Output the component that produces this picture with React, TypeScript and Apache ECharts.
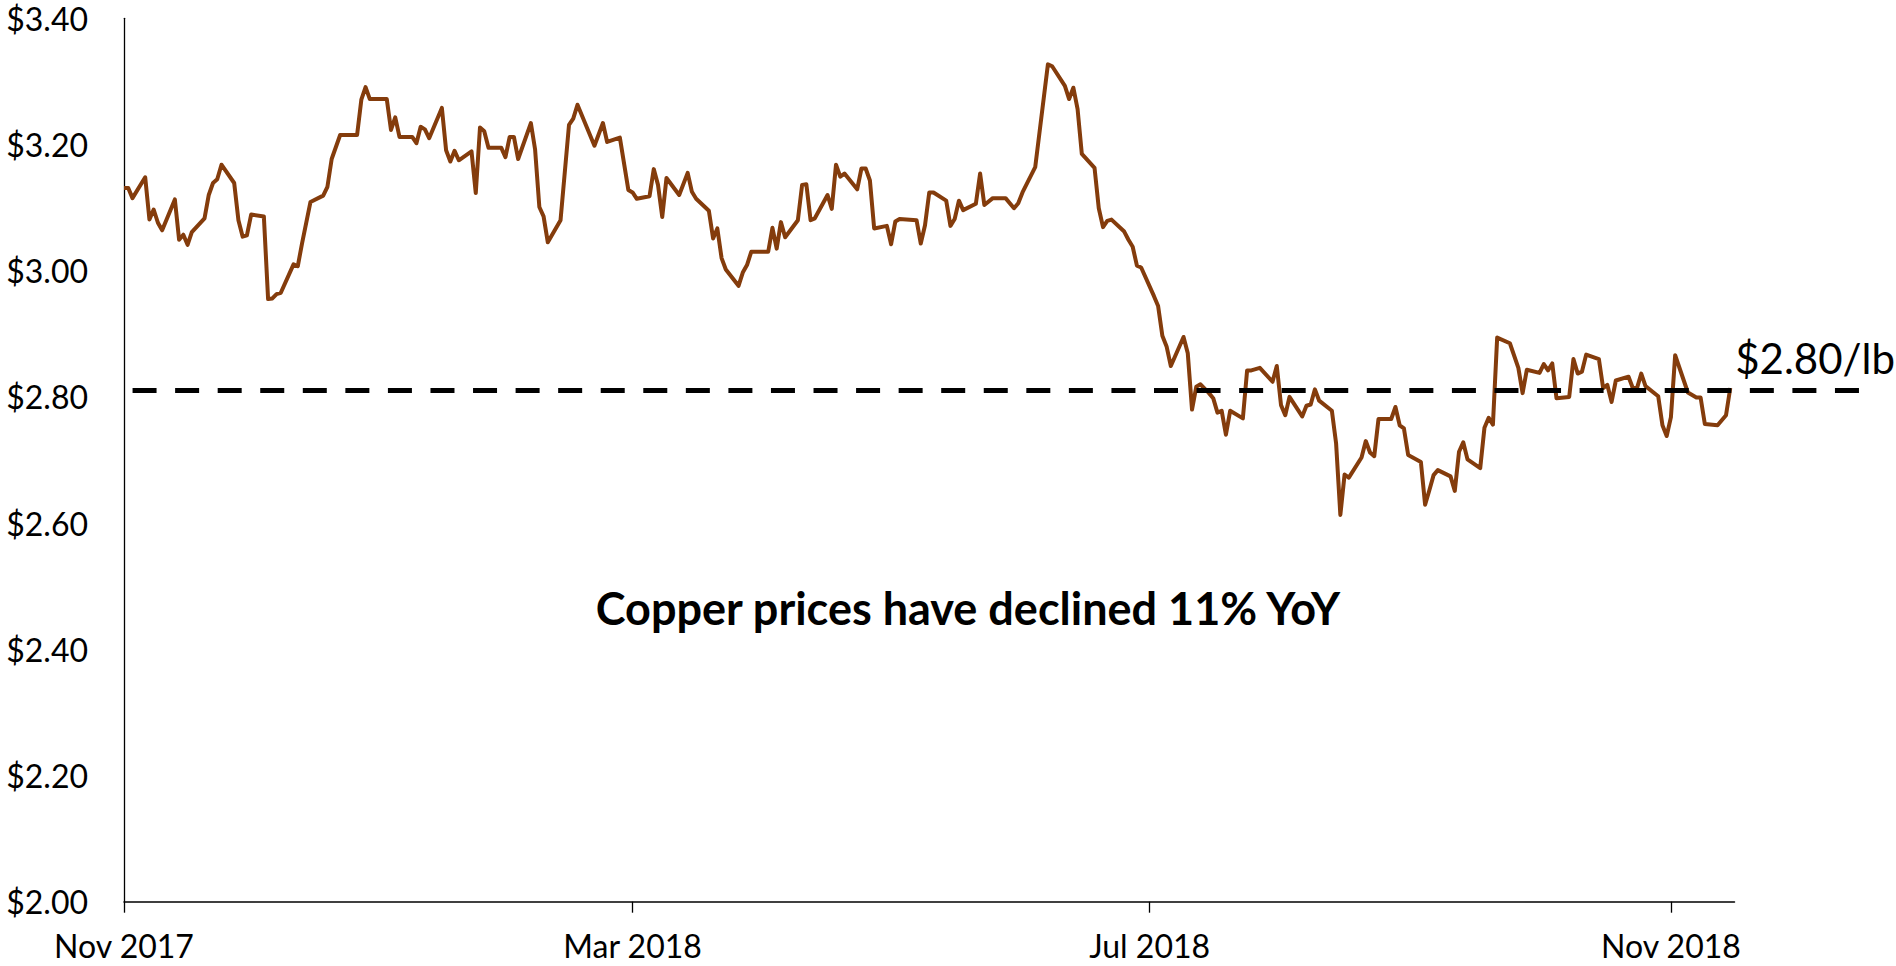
import React, { useEffect, useRef } from "react";
import * as echarts from "echarts";

// ---- Data ----
const dates: string[] = [
  "2017-11-01","2017-11-02","2017-11-03","2017-11-06","2017-11-07","2017-11-08","2017-11-09","2017-11-10","2017-11-13","2017-11-14","2017-11-15","2017-11-16","2017-11-17","2017-11-20","2017-11-21","2017-11-22","2017-11-23","2017-11-24","2017-11-27","2017-11-28","2017-11-29","2017-11-30",
  "2017-12-01","2017-12-04","2017-12-05","2017-12-06","2017-12-07","2017-12-08","2017-12-11","2017-12-12","2017-12-13","2017-12-15","2017-12-18","2017-12-19","2017-12-20","2017-12-22","2017-12-26","2017-12-27","2017-12-28","2017-12-29",
  "2018-01-02","2018-01-03","2018-01-04","2018-01-05","2018-01-08","2018-01-09","2018-01-10","2018-01-11","2018-01-12","2018-01-15","2018-01-16","2018-01-17","2018-01-18","2018-01-19","2018-01-22","2018-01-23","2018-01-24","2018-01-25","2018-01-26","2018-01-29","2018-01-30","2018-01-31",
  "2018-02-01","2018-02-02","2018-02-05","2018-02-06","2018-02-07","2018-02-08","2018-02-09","2018-02-12","2018-02-14","2018-02-15","2018-02-16","2018-02-20","2018-02-22","2018-02-23","2018-02-26","2018-02-28",
  "2018-03-01","2018-03-02","2018-03-05","2018-03-06","2018-03-07","2018-03-08","2018-03-09","2018-03-12","2018-03-14","2018-03-15","2018-03-16","2018-03-19","2018-03-20","2018-03-21","2018-03-22","2018-03-23","2018-03-26","2018-03-27","2018-03-28","2018-03-29",
  "2018-04-02","2018-04-03","2018-04-04","2018-04-05","2018-04-06","2018-04-09","2018-04-10","2018-04-11","2018-04-12","2018-04-13","2018-04-16","2018-04-17","2018-04-18","2018-04-19","2018-04-20","2018-04-23","2018-04-24","2018-04-25","2018-04-26","2018-04-27","2018-04-30",
  "2018-05-01","2018-05-02","2018-05-03","2018-05-07","2018-05-08","2018-05-09","2018-05-10","2018-05-11","2018-05-14","2018-05-15","2018-05-16","2018-05-17","2018-05-18","2018-05-21","2018-05-22","2018-05-23","2018-05-25","2018-05-28","2018-05-30","2018-05-31",
  "2018-06-01","2018-06-04","2018-06-07","2018-06-08","2018-06-11","2018-06-12","2018-06-13","2018-06-14","2018-06-15","2018-06-18","2018-06-19","2018-06-20","2018-06-21","2018-06-22","2018-06-25","2018-06-26","2018-06-27","2018-06-28","2018-06-29",
  "2018-07-02","2018-07-03","2018-07-04","2018-07-05","2018-07-06","2018-07-09","2018-07-10","2018-07-11","2018-07-12","2018-07-13","2018-07-15","2018-07-16","2018-07-17","2018-07-18","2018-07-19","2018-07-20","2018-07-23","2018-07-24","2018-07-25","2018-07-27","2018-07-30","2018-07-31",
  "2018-08-01","2018-08-02","2018-08-03","2018-08-06","2018-08-07","2018-08-08","2018-08-09","2018-08-10","2018-08-13","2018-08-14","2018-08-15","2018-08-16","2018-08-17","2018-08-20","2018-08-21","2018-08-22","2018-08-23","2018-08-24","2018-08-27","2018-08-28","2018-08-29","2018-08-30","2018-08-31",
  "2018-09-03","2018-09-04","2018-09-05","2018-09-06","2018-09-07","2018-09-10","2018-09-11","2018-09-12","2018-09-13","2018-09-14","2018-09-17","2018-09-18","2018-09-19","2018-09-20","2018-09-21","2018-09-24","2018-09-26","2018-09-27","2018-09-28",
  "2018-10-01","2018-10-02","2018-10-03","2018-10-04","2018-10-05","2018-10-08","2018-10-09","2018-10-10","2018-10-11","2018-10-12","2018-10-15","2018-10-16","2018-10-17","2018-10-18","2018-10-19","2018-10-22","2018-10-23","2018-10-24","2018-10-25","2018-10-26","2018-10-29","2018-10-30","2018-10-31",
  "2018-11-01","2018-11-02","2018-11-05","2018-11-07","2018-11-08","2018-11-09","2018-11-12","2018-11-14","2018-11-15",
];

const prices: number[] = [
  3.131,3.131,3.115,3.148,3.081,3.097,3.076,3.064,3.113,3.049,3.057,3.041,3.061,3.083,3.120,3.139,3.145,3.168,3.139,3.080,3.054,3.056,
  3.089,3.086,2.955,2.956,2.963,2.965,3.010,3.007,3.043,3.109,3.119,3.133,3.177,3.215,3.215,3.271,3.291,3.272,
  3.272,3.223,3.243,3.212,3.212,3.202,3.228,3.224,3.210,3.258,3.191,3.173,3.190,3.175,3.189,3.123,3.227,3.221,3.195,3.195,3.180,3.212,
  3.212,3.177,3.234,3.192,3.101,3.086,3.045,3.080,3.231,3.241,3.263,3.198,3.234,3.204,3.211,3.128,
  3.124,3.114,3.118,3.161,3.136,3.085,3.147,3.120,3.155,3.125,3.114,3.095,3.051,3.067,3.020,3.002,2.976,2.997,3.009,3.030,
  3.030,3.068,3.035,3.077,3.053,3.080,3.136,3.137,3.080,3.083,3.120,3.098,3.168,3.149,3.154,3.129,3.162,3.162,3.143,3.067,3.071,
  3.042,3.078,3.082,3.080,3.043,3.072,3.124,3.124,3.111,3.071,3.082,3.111,3.096,3.106,3.154,3.104,3.115,3.115,3.099,3.107,
  3.124,3.164,3.327,3.324,3.293,3.272,3.290,3.256,3.185,3.163,3.099,3.069,3.079,3.081,3.062,3.049,3.038,3.008,3.005,
  2.960,2.944,2.897,2.880,2.849,2.895,2.869,2.780,2.816,2.820,2.806,2.798,2.775,2.778,2.740,2.778,2.766,2.842,2.842,2.846,2.824,2.849,
  2.787,2.771,2.800,2.769,2.786,2.788,2.812,2.794,2.778,2.726,2.613,2.677,2.672,2.704,2.730,2.712,2.706,2.765,2.765,2.784,2.755,2.750,2.708,
  2.697,2.629,2.652,2.676,2.684,2.674,2.651,2.713,2.728,2.701,2.687,2.751,2.767,2.756,2.894,2.885,2.846,2.806,2.843,
  2.838,2.852,2.842,2.853,2.798,2.800,2.860,2.837,2.840,2.867,2.860,2.814,2.819,2.792,2.826,2.832,2.814,2.814,2.837,2.817,2.801,2.755,2.738,
  2.768,2.866,2.807,2.799,2.799,2.757,2.755,2.771,2.814,
];

const tickDates: string[] = ["2017-11-01", "2018-03-01", "2018-07-01", "2018-11-01"];
const tickLabels: string[] = ["Nov 2017", "Mar 2018", "Jul 2018", "Nov 2018"];
const axisStartDate = "2017-11-01";
const axisEndDate = "2018-11-16";
const yMin = 2.0;
const yMax = 3.4;
const yStep = 0.2;
const referencePrice = 2.81;
const referenceLabel = "$2.80/lb";
const annotationText = "Copper prices have declined 11% YoY";

const FONT = "Lato, 'Open Sans', 'DejaVu Sans', sans-serif";
const LINE_COLOR = "#843C0C";

const toTime = (d: string) => Date.parse(d + "T00:00:00Z");

export default function App() {
  const ref = useRef<HTMLDivElement | null>(null);

  useEffect(() => {
    if (!ref.current) return;
    const chart = echarts.init(ref.current, undefined, { renderer: "svg" });
    const tickTimes = tickDates.map(toTime);
    const seriesData = dates.map((d, i) => [toTime(d), prices[i]]);

    const option: any = {
      animation: false,
      backgroundColor: "#ffffff",
      grid: [
        { left: 124, right: 161.5, top: 18.3, bottom: 64.3, containLabel: false },
        { left: 124, right: 37, top: 18.3, bottom: 64.3, containLabel: false },
      ],
      xAxis: [
        {
          type: "value",
          gridIndex: 0,
          min: toTime(axisStartDate),
          max: toTime(axisEndDate),
          axisLine: { show: true, onZero: false, lineStyle: { color: "#000", width: 1.5 } },
          axisTick: {
            show: true,
            length: 11,
            customValues: tickTimes,
            lineStyle: { color: "#000", width: 1.3 },
          },
          axisLabel: {
            show: true,
            customValues: tickTimes,
            formatter: (v: number) => {
              const idx = tickTimes.findIndex((t) => Math.abs(t - v) < 3600000);
              return idx >= 0 ? tickLabels[idx] : "";
            },
            fontFamily: FONT,
            fontSize: 32,
            lineHeight: 26,
            color: "#000",
            margin: 31,
          },
          splitLine: { show: false },
        },
        { type: "value", gridIndex: 1, min: 0, max: 1, show: false },
      ],
      yAxis: [
        {
          type: "value",
          gridIndex: 0,
          min: yMin,
          max: yMax,
          interval: yStep,
          axisLine: { show: true, onZero: false, lineStyle: { color: "#000", width: 1.3 } },
          axisTick: { show: false },
          splitLine: { show: false },
          axisLabel: {
            formatter: (v: number) => "$" + v.toFixed(2),
            fontFamily: FONT,
            fontSize: 32,
            color: "#000",
            margin: 36,
          },
        },
        { type: "value", gridIndex: 1, min: yMin, max: yMax, show: false },
      ],
      series: [
        {
          type: "line",
          xAxisIndex: 0,
          yAxisIndex: 0,
          data: seriesData,
          symbol: "none",
          showSymbol: false,
          lineStyle: { color: LINE_COLOR, width: 4, join: "round" },
          z: 2,
        },
        {
          type: "line",
          xAxisIndex: 1,
          yAxisIndex: 1,
          data: [
            [0, referencePrice],
            [1, referencePrice],
          ],
          symbol: "none",
          showSymbol: false,
          lineStyle: { color: "#000", width: 5, type: [24, 18.56], dashOffset: 33.5 },
          z: 3,
        },
      ],
      graphic: [
        {
          type: "text",
          x: 968,
          y: 608,
          style: {
            text: annotationText,
            font: `bold 45px ${FONT}`,
            fill: "#000",
            align: "center",
            verticalAlign: "middle",
            textAlign: "center",
            textVerticalAlign: "middle",
          },
        },
        {
          type: "text",
          x: 1895,
          y: 358,
          style: {
            text: referenceLabel,
            font: `42px ${FONT}`,
            fill: "#000",
            align: "right",
            verticalAlign: "middle",
            textAlign: "right",
            textVerticalAlign: "middle",
          },
        },
      ],
    };

    chart.setOption(option);
    return () => {
      chart.dispose();
    };
  }, []);

  return (
    <div
      ref={ref}
      style={{ position: "fixed", left: 0, top: 0, width: 1896, height: 966, background: "#fff" }}
    />
  );
}
